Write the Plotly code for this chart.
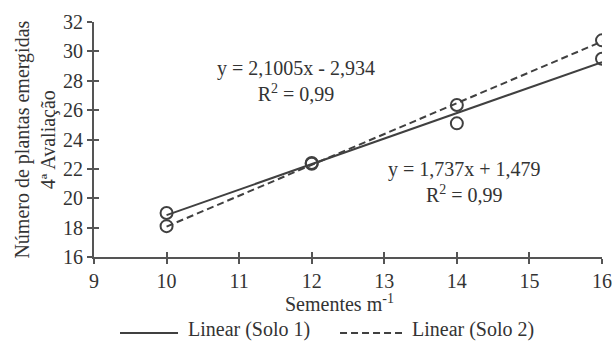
import numpy as np
import plotly.graph_objects as go

# Data
sementes = [10, 12, 14, 16]
solo1 = [19.0, 22.35, 25.1, 29.5]
solo2 = [18.1, 22.4, 26.35, 30.75]
# trendline coefficients (slope, intercept) as printed
fit1 = (1.737, 1.479)
fit2 = (2.1005, -2.934)
eq1_text = "y = 1,737x + 1,479<br>R<sup>2</sup> = 0,99"
eq2_text = "y = 2,1005x - 2,934<br>R<sup>2</sup> = 0,99"
series_names = ["Linear (Solo 1)", "Linear (Solo 2)"]
x_ticks = [9, 10, 11, 12, 13, 14, 15, 16]
y_ticks = [16, 18, 20, 22, 24, 26, 28, 30, 32]

C = "#404040"
TXT = "#333333"
FONT = "Liberation Serif"
FS = 20
DASH = "7px,4px"

xl = np.array([sementes[0], sementes[-1]], dtype=float)

fig = go.Figure()
fig.add_trace(go.Scatter(x=xl, y=fit1[0] * xl + fit1[1], mode="lines",
                         line=dict(color=C, width=2), name=series_names[0]))
fig.add_trace(go.Scatter(x=xl, y=fit2[0] * xl + fit2[1], mode="lines",
                         line=dict(color=C, width=2, dash=DASH), name=series_names[1]))
fig.add_trace(go.Scatter(x=sementes, y=solo1, mode="markers", showlegend=False,
                         marker=dict(symbol="circle-open", size=12, color=C, line=dict(width=2, color=C))))
fig.add_trace(go.Scatter(x=sementes, y=solo2, mode="markers", showlegend=False,
                         marker=dict(symbol="circle-open", size=12, color=C, line=dict(width=2, color=C))))
# overlay axes for inner halves of the crossing ticks
fig.add_trace(go.Scatter(x=[None], y=[None], xaxis="x2", yaxis="y2", showlegend=False))

axis_common = dict(showgrid=False, zeroline=False, linecolor="#555555", linewidth=2,
                   tickcolor="#555555", tickwidth=2, ticklen=5, automargin=False)
tickfont = dict(family=FONT, size=FS, color=TXT)

fig.update_layout(
    width=612, height=341,
    margin=dict(l=94, r=10, t=22, b=84, autoexpand=False),
    paper_bgcolor="white", plot_bgcolor="white",
    font=dict(family=FONT, color=TXT, size=FS),
    xaxis=dict(range=[9, 16], tickvals=x_ticks, ticks="outside", showline=True, tickfont=tickfont,
               **axis_common),
    yaxis=dict(range=[16, 32], tickvals=y_ticks, ticks="outside", showline=True, tickfont=tickfont,
               **axis_common),
    xaxis2=dict(range=[9, 16], tickvals=x_ticks, ticks="inside", overlaying="x", showline=False,
                showticklabels=False, side="bottom", anchor="y2", **axis_common),
    yaxis2=dict(range=[16, 32], tickvals=y_ticks, ticks="inside", overlaying="y", showline=False,
                showticklabels=False, side="left", anchor="x2", **axis_common),
    showlegend=False,
)

tf = dict(family=FONT, size=FS, color=TXT)
fig.add_annotation(x=11.78, y=27.95, text=eq2_text, showarrow=False, font=tf, align="center")
fig.add_annotation(x=14.1, y=21.14, text=eq1_text, showarrow=False, font=tf, align="center")
# axis titles
fig.add_annotation(xref="paper", yref="paper", x=-0.116, y=0.5, textangle=-90,
                   xanchor="center", yanchor="middle",
                   text="Número de plantas emergidas<br>4ª Avaliação", showarrow=False,
                   font=tf, align="center")
fig.add_annotation(xref="paper", yref="paper", x=0.484, y=-0.196, xanchor="center", yanchor="middle",
                   text="Sementes m<sup>-1</sup>", showarrow=False, font=tf)

# legend (drawn below the axis title, as in the reference)
leg_y = -0.3234
for (x0, x1, tx), name, dash in zip([(0.0512, 0.1654, 0.181), (0.4843, 0.6063, 0.623)],
                                    series_names, ["solid", DASH]):
    fig.add_shape(type="line", xref="paper", yref="paper", x0=x0, x1=x1, y0=leg_y, y1=leg_y,
                  line=dict(color=C, width=2, dash=dash))
    fig.add_annotation(xref="paper", yref="paper", x=tx, y=-0.3106, xanchor="left", yanchor="middle",
                       text=name, showarrow=False, font=tf)

fig.write_html("out.html", config={"displayModeBar": False},
               post_script="document.body.style.margin='0';")
